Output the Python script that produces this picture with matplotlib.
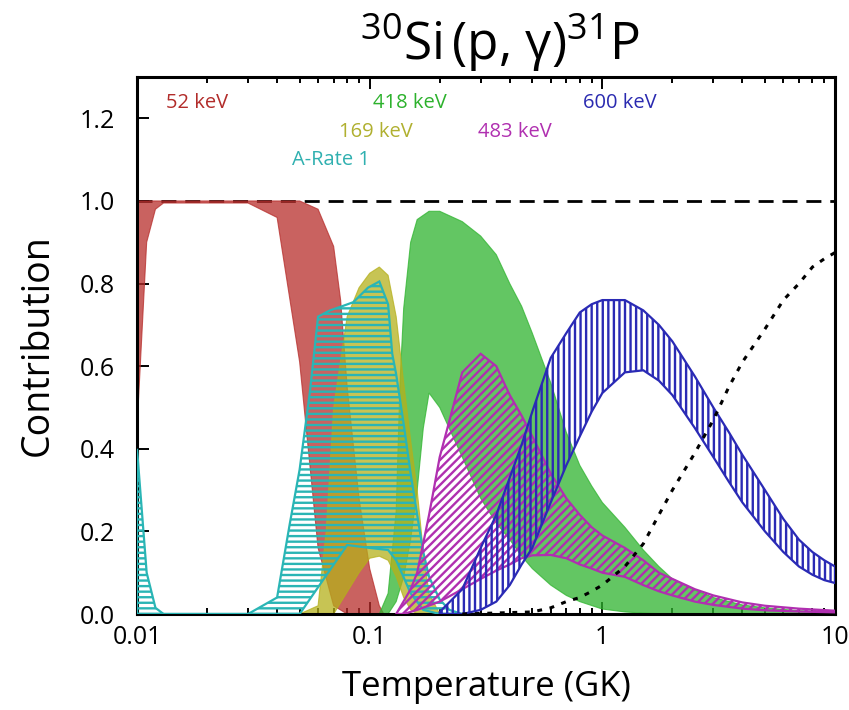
import numpy as np
import matplotlib
matplotlib.use("Agg")
import matplotlib.pyplot as plt

plt.rcParams['font.family'] = ['Open Sans', 'DejaVu Sans']
plt.rcParams['mathtext.fontset'] = 'custom'
plt.rcParams['mathtext.rm'] = 'Open Sans'
plt.rcParams['mathtext.it'] = 'Open Sans:italic'
plt.rcParams['hatch.linewidth'] = 1.7

# ---------------- data ----------------
# 52 keV (red, solid)
T_red_up = [0.01, 0.05, 0.06, 0.07, 0.075, 0.08, 0.09, 0.1, 0.11, 0.115]
red_up   = [1.0, 1.0, 0.98, 0.89, 0.76, 0.55, 0.28, 0.11, 0.02, 0.0]
T_red_lo = [0.01, 0.011, 0.012, 0.013, 0.03, 0.04, 0.05, 0.06, 0.07, 0.08]
red_lo   = [0.45, 0.90, 0.98, 0.995, 0.995, 0.96, 0.61, 0.16, 0.02, 0.0]

# 418 keV (green, solid)
T_grn_up = [0.11, 0.12, 0.13, 0.135, 0.14, 0.15, 0.16, 0.18, 0.2, 0.25, 0.3, 0.35, 0.4,
            0.45, 0.5, 0.6, 0.7, 0.8, 0.9, 1.0, 1.25, 1.5, 1.75, 2.0, 2.5, 3.0, 4.0,
            5.0, 7.0, 10.0]
grn_up   = [0.0, 0.05, 0.25, 0.56, 0.74, 0.90, 0.955, 0.975, 0.975, 0.95, 0.915, 0.87,
            0.80, 0.745, 0.68, 0.56, 0.44, 0.36, 0.31, 0.27, 0.21, 0.155, 0.115,
            0.085, 0.058, 0.04, 0.022, 0.015, 0.008, 0.005]
T_grn_lo = [0.11, 0.12, 0.13, 0.14, 0.15, 0.16, 0.17, 0.18, 0.2, 0.25, 0.3, 0.35, 0.4,
            0.45, 0.5, 0.6, 0.7, 0.8, 1.0, 1.25, 1.5, 2.0, 10.0]
grn_lo   = [0.0, 0.0, 0.03, 0.09, 0.18, 0.30, 0.45, 0.535, 0.50, 0.38, 0.28, 0.22,
            0.18, 0.14, 0.11, 0.07, 0.045, 0.03, 0.012, 0.005, 0.002, 0.0, 0.0]

# 169 keV (olive, solid)
T_yel_up = [0.05, 0.06, 0.065, 0.07, 0.08, 0.09, 0.1, 0.11, 0.12, 0.13, 0.14, 0.15,
            0.16, 0.17, 0.18, 0.2]
yel_up   = [0.0, 0.02, 0.20, 0.50, 0.72, 0.79, 0.825, 0.84, 0.82, 0.72, 0.56, 0.42,
            0.30, 0.15, 0.05, 0.0]
T_yel_lo = [0.05, 0.07, 0.09, 0.1, 0.11, 0.12, 0.13, 0.14, 0.15, 0.16, 0.2]
yel_lo   = [0.0, 0.0, 0.10, 0.135, 0.14, 0.13, 0.09, 0.04, 0.01, 0.0, 0.0]

# A-Rate 1 (cyan, horizontal hatch)
T_cyn_up = [0.01, 0.011, 0.012, 0.013, 0.03, 0.04, 0.0454, 0.05, 0.0554, 0.06, 0.0675,
            0.076, 0.0851, 0.0983, 0.11, 0.12, 0.125, 0.13, 0.14, 0.15, 0.16, 0.17,
            0.18, 0.2, 0.22, 0.25]
cyn_up   = [0.40, 0.10, 0.015, 0.0, 0.0, 0.04, 0.22, 0.35, 0.54, 0.72, 0.735, 0.745,
            0.755, 0.79, 0.805, 0.75, 0.63, 0.58, 0.46, 0.34, 0.24, 0.15, 0.09,
            0.035, 0.01, 0.0]
T_cyn_lo = [0.01, 0.05, 0.08, 0.1, 0.12, 0.13, 0.15, 0.17, 0.2, 0.25]
cyn_lo   = [0.0, 0.0, 0.167, 0.16, 0.155, 0.13, 0.05, 0.01, 0.0, 0.0]

# 483 keV (magenta, diagonal hatch)
T_mag_up = [0.13, 0.15, 0.16, 0.18, 0.2, 0.25, 0.3, 0.35, 0.4, 0.45, 0.5, 0.6, 0.7,
            0.8, 0.9, 1.0, 1.25, 1.5, 1.75, 2.0, 2.5, 3.0, 4.0, 5.0, 7.0, 10.0]
mag_up   = [0.0, 0.06, 0.10, 0.24, 0.38, 0.585, 0.63, 0.60, 0.53, 0.48, 0.43, 0.34,
            0.28, 0.24, 0.21, 0.19, 0.16, 0.13, 0.10, 0.085, 0.06, 0.045, 0.028,
            0.02, 0.013, 0.008]
T_mag_lo = [0.13, 0.14, 0.16, 0.2, 0.25, 0.3, 0.35, 0.4, 0.45, 0.5, 0.6, 0.7, 0.8,
            0.9, 1.0, 1.25, 1.5, 1.75, 2.0, 2.5, 3.0, 4.0, 5.0, 7.0, 10.0]
mag_lo   = [0.0, 0.0, 0.01, 0.03, 0.06, 0.085, 0.105, 0.12, 0.135, 0.142, 0.143,
            0.135, 0.12, 0.11, 0.10, 0.09, 0.07, 0.055, 0.045, 0.03, 0.022, 0.013,
            0.009, 0.006, 0.004]

# 600 keV (blue, vertical hatch)
T_blu_up = [0.2, 0.25, 0.3, 0.35, 0.4, 0.45, 0.5, 0.6, 0.7, 0.8, 0.9, 1.0, 1.25, 1.5,
            1.75, 2.0, 2.5, 3.0, 3.5, 4.0, 5.0, 6.0, 7.0, 8.0, 9.0, 10.0]
blu_up   = [0.005, 0.06, 0.16, 0.24, 0.33, 0.41, 0.49, 0.62, 0.68, 0.73, 0.75, 0.76,
            0.76, 0.735, 0.70, 0.66, 0.575, 0.50, 0.44, 0.385, 0.30, 0.23, 0.18,
            0.15, 0.13, 0.115]
T_blu_lo = [0.2, 0.25, 0.3, 0.35, 0.4, 0.45, 0.5, 0.6, 0.7, 0.8, 0.9, 1.0, 1.25, 1.5,
            1.75, 2.0, 2.5, 3.0, 3.5, 4.0, 5.0, 6.0, 7.0, 8.0, 9.0, 10.0]
blu_lo   = [0.0, 0.0, 0.01, 0.03, 0.07, 0.12, 0.16, 0.27, 0.36, 0.43, 0.49, 0.535,
            0.585, 0.59, 0.565, 0.53, 0.45, 0.38, 0.32, 0.27, 0.20, 0.15, 0.115,
            0.095, 0.082, 0.075]

# dotted curve
T_dot = [0.25, 0.5, 0.6, 0.7, 0.8, 0.9, 1.0, 1.25, 1.5, 1.75, 2.0, 2.5, 3.0, 3.5, 4.0,
         5.0, 6.0, 7.0, 8.0, 9.0, 10.0]
dot_y = [0.0, 0.005, 0.015, 0.03, 0.04, 0.055, 0.07, 0.115, 0.17, 0.24, 0.30, 0.39,
         0.47, 0.55, 0.61, 0.69, 0.76, 0.80, 0.84, 0.86, 0.875]

labels = ['52 keV', '418 keV', '600 keV', '169 keV', '483 keV', 'A-Rate 1']
label_T = [0.0181, 0.1494, 1.188, 0.1064, 0.4204, 0.0683]
label_y = [1.237, 1.237, 1.237, 1.167, 1.167, 1.099]
label_colors = ['#b22c2a', '#2db22d', '#2a2ab0', '#b0b030', '#b030b0', '#30b0b0']

# ---------------- plot ----------------
fig = plt.figure(figsize=(8.49, 7.10), dpi=100)
ax = fig.add_axes([0.1614, 0.1352, 0.8221, 0.7563])
ax.set_xscale('log')


def band(Tu, u, Tl, l, **kw):
    xs = np.concatenate([np.asarray(Tu, float), np.asarray(Tl, float)[::-1]])
    ys = np.concatenate([np.asarray(u, float), np.asarray(l, float)[::-1]])
    return ax.fill(xs, ys, **kw)


band(T_red_up, red_up, T_red_lo, red_lo, facecolor='#b72d2b', alpha=0.75,
     edgecolor='#b72d2b', linewidth=0.8, zorder=2)
band(T_grn_up, grn_up, T_grn_lo, grn_lo, facecolor='#2fb42f', alpha=0.75,
     edgecolor='#2fb42f', linewidth=0.8, zorder=2.1)
band(T_yel_up, yel_up, T_yel_lo, yel_lo, facecolor='#b5b01b', alpha=0.75,
     edgecolor='#b5b01b', linewidth=0.8, zorder=2.2)
band(T_cyn_up, cyn_up, T_cyn_lo, cyn_lo, facecolor='none', edgecolor='#2ab5b5',
     hatch='---', linewidth=1.6, zorder=3)
band(T_mag_up, mag_up, T_mag_lo, mag_lo, facecolor='none', edgecolor='#b02fb0',
     hatch='////', linewidth=1.6, zorder=3.1)
band(T_blu_up, blu_up, T_blu_lo, blu_lo, facecolor='none', edgecolor='#2a2ab5',
     hatch='|||', linewidth=1.6, zorder=3.2)

ax.plot(T_dot, dot_y, color='black', linestyle=(0, (1.6, 2.5)), linewidth=2.2, zorder=4)
ax.axhline(1.0, color='black', linestyle=(0, (5.4, 3.2)), linewidth=2.0, zorder=1.5)

for txt, tx, ty, c in zip(labels, label_T, label_y, label_colors):
    ax.text(tx, ty, txt, color=c, fontsize=14.5, ha='center', va='center')

ax.set_xlim(0.01, 10)
ax.set_ylim(0, 1.3)
ax.set_yticks([0.0, 0.2, 0.4, 0.6, 0.8, 1.0, 1.2])
ax.set_yticklabels(['0.0', '0.2', '0.4', '0.6', '0.8', '1.0', '1.2'])
ax.set_xticks([0.01, 0.1, 1, 10])
ax.set_xticklabels(['0.01', '0.1', '1', '10'])
ax.tick_params(axis='both', which='major', direction='in', length=8.5, width=1.4,
               labelsize=18, top=True, right=False)
ax.tick_params(axis='x', which='major', pad=8)
ax.tick_params(axis='y', which='major', pad=16)
ax.tick_params(axis='both', which='minor', direction='in', length=4.3, width=1.4,
               top=True, right=False)
ax.yaxis.set_minor_locator(matplotlib.ticker.NullLocator())
for s in ax.spines.values():
    s.set_linewidth(2.2)

ax.set_xlabel('Temperature (GK)', fontsize=25, labelpad=14)
ax.set_ylabel('Contribution', fontsize=27, labelpad=16)
fig.text(0.589, 0.94, r'$^{30}$Si$\,$(p, γ)$^{31}$P', fontsize=37, ha='center', va='center')

fig.savefig('out.png', dpi=100)
